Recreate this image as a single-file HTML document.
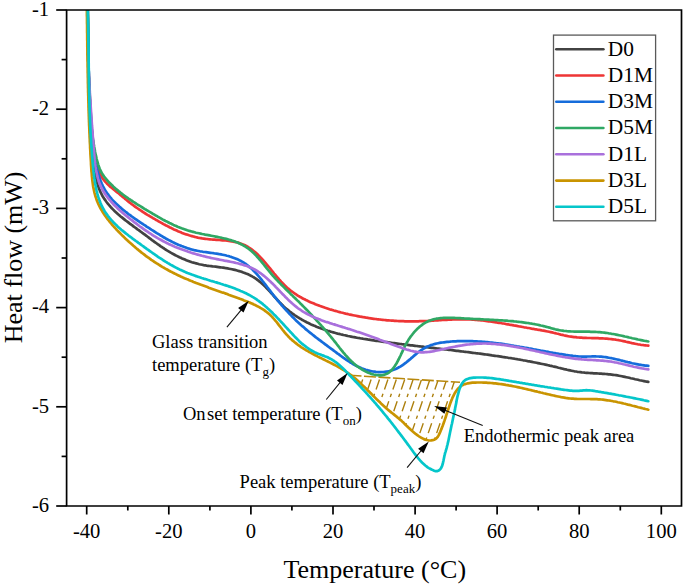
<!DOCTYPE html>
<html><head><meta charset="utf-8"><style>
html,body{margin:0;padding:0;background:#fff;}
svg{display:block;}
text{font-family:"Liberation Serif", serif;fill:#000;}
</style></head><body>
<svg width="685" height="586" viewBox="0 0 685 586">
<clipPath id="hc"><polygon points="349.5,375.3 356.3,379.8 364.6,387.3 371.9,394.6 379.2,401.9 388.5,409.5 391.9,412.5 399.2,419.6 408.0,426.9 416.6,434.7 425.3,439.5 431.1,440.5 436.2,438.8 439.1,434.4 440.8,430.0 442.5,426.5 445.9,416.7 449.6,405.0 451.9,400.0 456.3,390.4 460.0,382.3"/></clipPath>
<g clip-path="url(#hc)" stroke="#ad800e" stroke-width="1.4" fill="none">
<line x1="295.5" y1="379.5" x2="266.2" y2="464.6" stroke-dasharray="10.5,4.6,3.4,4.6"/>
<line x1="303.9" y1="379.5" x2="274.6" y2="464.6" stroke-dasharray="10.5,4.6,3.4,4.6"/>
<line x1="312.3" y1="379.5" x2="283.0" y2="464.6" stroke-dasharray="10.5,4.6,3.4,4.6"/>
<line x1="320.7" y1="379.5" x2="291.4" y2="464.6" stroke-dasharray="10.5,4.6,3.4,4.6"/>
<line x1="329.1" y1="379.5" x2="299.8" y2="464.6" stroke-dasharray="10.5,4.6,3.4,4.6"/>
<line x1="337.5" y1="379.5" x2="308.2" y2="464.6" stroke-dasharray="10.5,4.6,3.4,4.6"/>
<line x1="345.9" y1="379.5" x2="316.6" y2="464.6" stroke-dasharray="10.5,4.6,3.4,4.6"/>
<line x1="354.3" y1="379.5" x2="325.0" y2="464.6" stroke-dasharray="10.5,4.6,3.4,4.6"/>
<line x1="362.7" y1="379.5" x2="333.4" y2="464.6" stroke-dasharray="10.5,4.6,3.4,4.6"/>
<line x1="371.1" y1="379.5" x2="341.8" y2="464.6" stroke-dasharray="10.5,4.6,3.4,4.6"/>
<line x1="379.5" y1="379.5" x2="350.2" y2="464.6" stroke-dasharray="10.5,4.6,3.4,4.6"/>
<line x1="387.9" y1="379.5" x2="358.6" y2="464.6" stroke-dasharray="10.5,4.6,3.4,4.6"/>
<line x1="396.3" y1="379.5" x2="367.0" y2="464.6" stroke-dasharray="10.5,4.6,3.4,4.6"/>
<line x1="404.7" y1="379.5" x2="375.4" y2="464.6" stroke-dasharray="10.5,4.6,3.4,4.6"/>
<line x1="413.1" y1="379.5" x2="383.8" y2="464.6" stroke-dasharray="10.5,4.6,3.4,4.6"/>
<line x1="421.5" y1="379.5" x2="392.2" y2="464.6" stroke-dasharray="10.5,4.6,3.4,4.6"/>
<line x1="429.9" y1="379.5" x2="400.6" y2="464.6" stroke-dasharray="10.5,4.6,3.4,4.6"/>
<line x1="438.3" y1="379.5" x2="409.0" y2="464.6" stroke-dasharray="10.5,4.6,3.4,4.6"/>
<line x1="446.7" y1="379.5" x2="417.4" y2="464.6" stroke-dasharray="10.5,4.6,3.4,4.6"/>
<line x1="455.1" y1="379.5" x2="425.8" y2="464.6" stroke-dasharray="10.5,4.6,3.4,4.6"/>
<line x1="463.5" y1="379.5" x2="434.2" y2="464.6" stroke-dasharray="10.5,4.6,3.4,4.6"/>
<line x1="471.9" y1="379.5" x2="442.6" y2="464.6" stroke-dasharray="10.5,4.6,3.4,4.6"/>
</g>
<line x1="349.5" y1="375.3" x2="460" y2="382.3" stroke="#b8880c" stroke-width="1.6" stroke-dasharray="12,2.5"/>
<clipPath id="pc"><rect x="66.6" y="10" width="614.9" height="496"/></clipPath><g clip-path="url(#pc)">
<path d="M87.7,4.9 L87.7,6.5 L87.6,8.0 L87.6,9.5 L87.6,11.1 L87.6,12.6 L87.6,14.1 L87.6,15.6 L87.6,17.2 L87.6,18.7 L87.6,20.2 L87.6,21.7 L87.6,23.2 L87.6,24.7 L87.6,26.3 L87.6,27.8 L87.6,29.3 L87.6,30.8 L87.7,32.3 L87.7,33.8 L87.7,35.3 L87.7,36.8 L87.7,38.3 L87.8,39.8 L87.8,41.3 L87.8,42.8 L87.8,44.3 L87.9,45.7 L87.9,47.2 L87.9,48.7 L88.0,50.2 L88.0,51.7 L88.1,53.2 L88.1,54.7 L88.1,56.1 L88.2,57.6 L88.2,59.1 L88.3,60.6 L88.3,62.1 L88.4,63.6 L88.4,65.0 L88.5,66.5 L88.5,68.0 L88.6,69.5 L88.7,70.9 L88.7,72.4 L88.8,73.9 L88.8,75.4 L88.9,76.9 L89.0,78.3 L89.0,79.8 L89.1,81.3 L89.2,82.8 L89.2,84.2 L89.3,85.7 L89.4,87.2 L89.5,88.7 L89.5,90.1 L89.6,91.6 L89.7,93.1 L89.7,94.6 L89.8,96.1 L89.9,97.5 L90.0,99.0 L90.1,100.5 L90.1,102.0 L90.2,103.5 L90.3,105.0 L90.4,106.4 L90.5,107.9 L90.6,109.4 L90.6,110.9 L90.7,112.4 L90.8,113.9 L90.9,115.4 L91.0,116.9 L91.1,118.4 L91.2,119.9 L91.3,121.4 L91.3,122.9 L91.4,124.4 L91.5,125.9 L91.6,127.4 L91.7,128.9 L91.8,130.4 L91.9,131.9 L92.0,133.4 L92.1,134.9 L92.2,136.4 L92.3,137.9 L92.4,139.5 L92.5,141.0 L92.5,142.5 L92.6,144.0 L92.7,145.5 L92.8,147.1 L92.9,148.6 L93.0,150.1 L93.1,151.7 L93.2,153.2 L93.3,154.8 L93.4,156.3 L93.5,157.8 L93.6,159.4 L93.8,160.9 L93.9,162.4 L94.0,164.0 L94.2,165.5 L94.4,167.0 L94.5,168.5 L94.7,170.0 L94.9,171.5 L95.2,173.0 L95.4,174.5 L95.7,176.0 L96.0,177.5 L96.3,178.9 L96.6,180.4 L96.9,181.8 L97.3,183.2 L97.7,184.6 L98.2,186.0 L98.6,187.4 L99.1,188.7 L99.7,190.1 L100.2,191.4 L100.8,192.7 L101.5,194.0 L102.1,195.3 L102.8,196.5 L103.6,197.7 L104.3,198.9 L105.2,200.1 L106.0,201.3 L106.9,202.5 L107.8,203.6 L108.7,204.7 L109.7,205.8 L110.6,206.9 L111.6,208.0 L112.7,209.1 L113.7,210.1 L114.8,211.2 L115.9,212.2 L117.0,213.2 L118.1,214.2 L119.3,215.2 L120.4,216.2 L121.6,217.2 L122.8,218.1 L124.0,219.1 L125.2,220.1 L126.4,221.0 L127.6,221.9 L128.9,222.9 L130.1,223.8 L131.3,224.7 L132.6,225.6 L133.8,226.6 L135.1,227.5 L136.3,228.4 L137.5,229.3 L138.8,230.2 L140.0,231.1 L141.2,232.0 L142.4,232.9 L143.7,233.8 L144.9,234.7 L146.1,235.6 L147.3,236.5 L148.5,237.4 L149.7,238.3 L150.9,239.2 L152.0,240.1 L153.2,240.9 L154.4,241.8 L155.6,242.7 L156.8,243.5 L158.0,244.4 L159.2,245.2 L160.4,246.1 L161.6,246.9 L162.8,247.7 L164.1,248.5 L165.3,249.3 L166.5,250.1 L167.8,250.9 L169.0,251.6 L170.3,252.4 L171.6,253.1 L172.8,253.8 L174.1,254.5 L175.4,255.2 L176.8,255.9 L178.1,256.6 L179.4,257.2 L180.8,257.8 L182.1,258.4 L183.5,259.0 L184.9,259.6 L186.3,260.2 L187.7,260.7 L189.1,261.2 L190.5,261.7 L191.9,262.2 L193.4,262.6 L194.8,263.0 L196.2,263.4 L197.7,263.8 L199.2,264.2 L200.6,264.5 L202.1,264.8 L203.6,265.1 L205.1,265.3 L206.6,265.6 L208.1,265.8 L209.6,266.0 L211.1,266.2 L212.6,266.4 L214.1,266.5 L215.6,266.7 L217.1,266.9 L218.6,267.1 L220.2,267.3 L221.7,267.5 L223.1,267.7 L224.6,267.9 L226.1,268.2 L227.6,268.4 L229.1,268.7 L230.6,269.0 L232.0,269.3 L233.5,269.6 L234.9,269.9 L236.3,270.3 L237.8,270.7 L239.2,271.1 L240.6,271.5 L242.0,271.9 L243.3,272.4 L244.7,272.9 L246.0,273.5 L247.4,274.0 L248.7,274.6 L250.0,275.3 L251.3,275.9 L252.5,276.6 L253.8,277.3 L255.0,278.1 L256.2,278.9 L257.4,279.8 L258.5,280.6 L259.7,281.6 L260.8,282.5 L261.9,283.5 L263.0,284.5 L264.1,285.5 L265.2,286.6 L266.2,287.7 L267.3,288.8 L268.3,289.9 L269.4,291.0 L270.4,292.2 L271.4,293.3 L272.5,294.4 L273.5,295.6 L274.5,296.8 L275.5,297.9 L276.6,299.0 L277.6,300.2 L278.7,301.3 L279.7,302.4 L280.8,303.5 L281.8,304.6 L282.9,305.6 L284.0,306.7 L285.1,307.7 L286.3,308.7 L287.4,309.6 L288.6,310.6 L289.7,311.5 L290.9,312.4 L292.1,313.3 L293.3,314.1 L294.5,315.0 L295.7,315.8 L296.9,316.6 L298.1,317.4 L299.4,318.2 L300.7,318.9 L301.9,319.7 L303.2,320.4 L304.5,321.1 L305.8,321.8 L307.1,322.5 L308.4,323.1 L309.7,323.7 L311.0,324.4 L312.4,325.0 L313.7,325.6 L315.1,326.1 L316.4,326.7 L317.8,327.2 L319.2,327.8 L320.6,328.3 L322.0,328.8 L323.4,329.3 L324.8,329.8 L326.2,330.2 L327.6,330.7 L329.0,331.1 L330.4,331.6 L331.9,332.0 L333.3,332.4 L334.7,332.8 L336.2,333.2 L337.6,333.6 L339.1,333.9 L340.5,334.3 L342.0,334.6 L343.5,335.0 L345.0,335.3 L346.4,335.6 L347.9,336.0 L349.4,336.3 L350.9,336.6 L352.4,336.9 L353.9,337.1 L355.3,337.4 L356.8,337.7 L358.3,338.0 L359.8,338.2 L361.3,338.5 L362.8,338.7 L364.3,339.0 L365.8,339.2 L367.3,339.4 L368.8,339.7 L370.3,339.9 L371.9,340.1 L373.4,340.3 L374.9,340.6 L376.4,340.8 L377.9,341.0 L379.4,341.2 L380.9,341.4 L382.4,341.6 L383.9,341.8 L385.4,342.0 L386.9,342.2 L388.4,342.4 L389.9,342.6 L391.3,342.8 L392.8,343.0 L394.3,343.2 L395.8,343.4 L397.3,343.6 L398.8,343.8 L400.3,344.0 L401.8,344.2 L403.3,344.3 L404.8,344.5 L406.2,344.7 L407.7,344.9 L409.2,345.1 L410.7,345.3 L412.2,345.4 L413.7,345.6 L415.1,345.8 L416.6,346.0 L418.1,346.2 L419.6,346.3 L421.1,346.5 L422.5,346.7 L424.0,346.9 L425.5,347.0 L427.0,347.2 L428.4,347.4 L429.9,347.6 L431.4,347.8 L432.9,347.9 L434.4,348.1 L435.8,348.3 L437.3,348.5 L438.8,348.6 L440.3,348.8 L441.7,349.0 L443.2,349.2 L444.7,349.3 L446.2,349.5 L447.6,349.7 L449.1,349.9 L450.6,350.0 L452.1,350.2 L453.5,350.4 L455.0,350.6 L456.5,350.8 L458.0,350.9 L459.4,351.1 L460.9,351.3 L462.4,351.5 L463.9,351.7 L465.3,351.8 L466.8,352.0 L468.3,352.2 L469.8,352.4 L471.3,352.6 L472.7,352.8 L474.2,353.0 L475.7,353.2 L477.2,353.3 L478.7,353.5 L480.1,353.7 L481.6,353.9 L483.1,354.1 L484.6,354.3 L486.1,354.5 L487.5,354.7 L489.0,354.9 L490.5,355.1 L492.0,355.4 L493.5,355.6 L495.0,355.8 L496.5,356.0 L497.9,356.2 L499.4,356.4 L500.9,356.6 L502.4,356.9 L503.9,357.1 L505.4,357.3 L506.8,357.5 L508.3,357.8 L509.8,358.0 L511.3,358.2 L512.8,358.5 L514.3,358.7 L515.8,359.0 L517.2,359.2 L518.7,359.5 L520.2,359.7 L521.7,360.0 L523.2,360.3 L524.6,360.5 L526.1,360.8 L527.6,361.1 L529.1,361.3 L530.6,361.6 L532.0,361.9 L533.5,362.2 L535.0,362.5 L536.5,362.8 L537.9,363.1 L539.4,363.4 L540.9,363.7 L542.3,364.0 L543.8,364.3 L545.3,364.6 L546.7,364.9 L548.2,365.2 L549.7,365.6 L551.1,365.9 L552.6,366.3 L554.0,366.6 L555.5,366.9 L557.0,367.3 L558.4,367.7 L559.9,368.0 L561.3,368.4 L562.8,368.7 L564.2,369.1 L565.7,369.4 L567.1,369.8 L568.6,370.1 L570.1,370.4 L571.5,370.7 L573.0,371.0 L574.4,371.3 L575.9,371.5 L577.4,371.8 L578.8,372.0 L580.3,372.2 L581.8,372.4 L583.3,372.5 L584.8,372.7 L586.3,372.8 L587.7,372.9 L589.2,373.0 L590.7,373.1 L592.2,373.2 L593.7,373.3 L595.2,373.4 L596.7,373.4 L598.2,373.5 L599.7,373.6 L601.2,373.7 L602.7,373.8 L604.2,373.9 L605.7,374.0 L607.2,374.1 L608.6,374.3 L610.1,374.4 L611.6,374.6 L613.1,374.8 L614.6,375.0 L616.0,375.2 L617.5,375.4 L619.0,375.7 L620.5,376.0 L621.9,376.3 L623.4,376.6 L624.9,376.9 L626.3,377.2 L627.8,377.5 L629.2,377.8 L630.7,378.2 L632.2,378.5 L633.6,378.8 L635.1,379.2 L636.6,379.5 L638.0,379.8 L639.5,380.2 L641.0,380.5 L642.4,380.8 L643.9,381.1 L645.4,381.4 L646.8,381.6 L648.3,381.9" fill="none" stroke="#424242" stroke-width="2.7" stroke-linejoin="round" stroke-linecap="round"/>
<path d="M87.6,5.0 L87.6,6.5 L87.7,8.0 L87.7,9.5 L87.8,11.0 L87.8,12.5 L87.8,14.0 L87.9,15.5 L87.9,17.0 L88.0,18.5 L88.0,20.0 L88.0,21.5 L88.0,23.0 L88.1,24.5 L88.1,26.0 L88.1,27.5 L88.1,29.0 L88.2,30.5 L88.2,32.0 L88.2,33.5 L88.2,35.0 L88.2,36.5 L88.3,38.0 L88.3,39.5 L88.3,41.0 L88.3,42.5 L88.3,44.0 L88.3,45.5 L88.3,47.0 L88.4,48.5 L88.4,50.0 L88.4,51.5 L88.4,53.0 L88.4,54.5 L88.4,56.0 L88.4,57.5 L88.5,59.0 L88.5,60.5 L88.5,62.0 L88.5,63.5 L88.5,65.0 L88.5,66.5 L88.6,68.0 L88.6,69.5 L88.6,71.0 L88.6,72.5 L88.7,74.0 L88.7,75.5 L88.7,77.0 L88.8,78.5 L88.8,79.9 L88.8,81.4 L88.9,82.9 L88.9,84.4 L88.9,85.9 L89.0,87.4 L89.0,88.9 L89.1,90.4 L89.1,91.9 L89.2,93.4 L89.2,94.9 L89.3,96.4 L89.3,97.9 L89.4,99.4 L89.5,100.9 L89.5,102.4 L89.6,103.9 L89.7,105.4 L89.8,106.9 L89.8,108.4 L89.9,109.9 L90.0,111.4 L90.1,112.9 L90.2,114.4 L90.3,115.9 L90.4,117.4 L90.5,118.9 L90.6,120.4 L90.8,121.9 L90.9,123.4 L91.0,124.9 L91.1,126.3 L91.3,127.8 L91.4,129.3 L91.6,130.8 L91.7,132.3 L91.9,133.8 L92.0,135.3 L92.2,136.8 L92.4,138.3 L92.5,139.8 L92.7,141.4 L92.9,142.9 L93.1,144.4 L93.3,145.9 L93.5,147.4 L93.7,148.9 L93.9,150.4 L94.1,151.9 L94.4,153.4 L94.6,154.9 L94.9,156.4 L95.1,157.9 L95.4,159.3 L95.7,160.8 L96.1,162.3 L96.4,163.7 L96.8,165.1 L97.2,166.6 L97.7,168.0 L98.1,169.4 L98.7,170.7 L99.2,172.1 L99.8,173.4 L100.5,174.7 L101.2,175.9 L101.9,177.2 L102.7,178.4 L103.5,179.6 L104.4,180.7 L105.4,181.9 L106.4,182.9 L107.4,184.0 L108.5,185.0 L109.6,186.1 L110.8,187.1 L112.0,188.0 L113.1,189.0 L114.3,190.0 L115.5,190.9 L116.7,191.9 L117.9,192.8 L119.1,193.8 L120.2,194.8 L121.4,195.7 L122.5,196.7 L123.7,197.6 L124.8,198.6 L125.9,199.5 L127.1,200.4 L128.2,201.4 L129.4,202.3 L130.6,203.2 L131.7,204.1 L132.9,205.0 L134.1,205.9 L135.3,206.8 L136.5,207.6 L137.8,208.5 L139.0,209.3 L140.3,210.2 L141.5,211.0 L142.8,211.8 L144.0,212.7 L145.3,213.5 L146.6,214.3 L147.9,215.1 L149.2,215.8 L150.5,216.6 L151.8,217.4 L153.1,218.2 L154.4,218.9 L155.7,219.7 L157.0,220.4 L158.3,221.2 L159.6,221.9 L160.9,222.6 L162.2,223.3 L163.5,224.1 L164.8,224.8 L166.1,225.5 L167.4,226.1 L168.7,226.8 L170.0,227.5 L171.4,228.1 L172.7,228.8 L174.0,229.4 L175.4,230.0 L176.7,230.6 L178.0,231.2 L179.4,231.8 L180.8,232.3 L182.1,232.9 L183.5,233.4 L184.9,233.9 L186.3,234.4 L187.7,234.8 L189.1,235.3 L190.5,235.7 L191.9,236.1 L193.4,236.5 L194.8,236.9 L196.3,237.2 L197.7,237.6 L199.2,237.9 L200.7,238.1 L202.2,238.4 L203.7,238.6 L205.3,238.8 L206.8,239.0 L208.3,239.2 L209.9,239.3 L211.5,239.5 L213.0,239.6 L214.6,239.7 L216.2,239.8 L217.8,239.9 L219.4,240.0 L220.9,240.1 L222.5,240.3 L224.1,240.4 L225.6,240.5 L227.2,240.7 L228.7,240.9 L230.2,241.1 L231.7,241.3 L233.2,241.6 L234.7,241.9 L236.1,242.2 L237.6,242.5 L239.0,242.9 L240.4,243.4 L241.7,243.9 L243.0,244.4 L244.3,245.0 L245.6,245.6 L246.9,246.3 L248.1,247.0 L249.3,247.8 L250.5,248.6 L251.6,249.4 L252.8,250.3 L253.9,251.2 L255.0,252.1 L256.1,253.1 L257.2,254.1 L258.3,255.1 L259.3,256.1 L260.3,257.2 L261.4,258.3 L262.4,259.4 L263.4,260.5 L264.4,261.7 L265.4,262.8 L266.4,264.0 L267.3,265.2 L268.3,266.3 L269.3,267.5 L270.3,268.7 L271.2,269.9 L272.2,271.1 L273.2,272.3 L274.1,273.5 L275.1,274.7 L276.1,275.9 L277.1,277.0 L278.1,278.2 L279.1,279.4 L280.1,280.5 L281.1,281.6 L282.2,282.7 L283.2,283.8 L284.3,284.9 L285.3,285.9 L286.4,287.0 L287.5,288.0 L288.7,288.9 L289.8,289.9 L290.9,290.8 L292.1,291.7 L293.3,292.5 L294.5,293.4 L295.7,294.2 L296.9,295.0 L298.2,295.8 L299.4,296.5 L300.7,297.2 L302.0,298.0 L303.3,298.7 L304.6,299.3 L305.9,300.0 L307.2,300.6 L308.5,301.3 L309.9,301.9 L311.2,302.5 L312.6,303.0 L314.0,303.6 L315.3,304.2 L316.7,304.7 L318.1,305.2 L319.5,305.8 L320.9,306.3 L322.3,306.8 L323.8,307.3 L325.2,307.8 L326.6,308.2 L328.1,308.7 L329.5,309.2 L330.9,309.6 L332.4,310.0 L333.8,310.5 L335.3,310.9 L336.8,311.3 L338.2,311.7 L339.7,312.1 L341.2,312.5 L342.6,312.8 L344.1,313.2 L345.6,313.6 L347.1,313.9 L348.5,314.3 L350.0,314.6 L351.5,314.9 L353.0,315.2 L354.5,315.5 L356.0,315.8 L357.5,316.1 L358.9,316.4 L360.4,316.7 L361.9,316.9 L363.4,317.2 L364.9,317.4 L366.4,317.7 L367.9,317.9 L369.3,318.2 L370.8,318.4 L372.3,318.6 L373.8,318.8 L375.3,319.0 L376.7,319.2 L378.2,319.3 L379.7,319.5 L381.2,319.7 L382.7,319.8 L384.2,320.0 L385.6,320.1 L387.1,320.3 L388.6,320.4 L390.1,320.5 L391.6,320.6 L393.1,320.7 L394.5,320.8 L396.0,320.9 L397.5,321.0 L399.0,321.1 L400.5,321.1 L402.0,321.2 L403.4,321.2 L404.9,321.3 L406.4,321.3 L407.9,321.3 L409.4,321.3 L410.9,321.3 L412.4,321.3 L413.8,321.3 L415.3,321.3 L416.8,321.3 L418.3,321.3 L419.8,321.2 L421.3,321.2 L422.8,321.1 L424.3,321.1 L425.8,321.0 L427.3,321.0 L428.8,320.9 L430.3,320.8 L431.8,320.7 L433.3,320.6 L434.8,320.5 L436.3,320.4 L437.8,320.3 L439.3,320.2 L440.8,320.1 L442.3,320.0 L443.8,320.0 L445.3,319.9 L446.8,319.8 L448.3,319.7 L449.8,319.6 L451.3,319.6 L452.8,319.5 L454.3,319.4 L455.8,319.4 L457.3,319.4 L458.8,319.3 L460.3,319.3 L461.8,319.3 L463.3,319.3 L464.8,319.3 L466.3,319.4 L467.8,319.4 L469.3,319.5 L470.8,319.5 L472.3,319.6 L473.8,319.7 L475.3,319.8 L476.7,320.0 L478.2,320.1 L479.7,320.2 L481.2,320.4 L482.7,320.5 L484.2,320.7 L485.7,320.9 L487.2,321.1 L488.6,321.3 L490.1,321.5 L491.6,321.7 L493.1,321.9 L494.6,322.1 L496.1,322.3 L497.5,322.6 L499.0,322.8 L500.5,323.0 L502.0,323.3 L503.5,323.5 L504.9,323.8 L506.4,324.1 L507.9,324.3 L509.4,324.6 L510.8,324.8 L512.3,325.1 L513.8,325.4 L515.3,325.6 L516.8,325.9 L518.2,326.2 L519.7,326.5 L521.2,326.7 L522.7,327.0 L524.1,327.3 L525.6,327.5 L527.1,327.8 L528.6,328.0 L530.0,328.3 L531.5,328.6 L533.0,328.8 L534.5,329.1 L535.9,329.3 L537.4,329.6 L538.9,329.8 L540.4,330.1 L541.8,330.4 L543.3,330.6 L544.8,330.9 L546.2,331.2 L547.7,331.5 L549.2,331.8 L550.6,332.1 L552.1,332.4 L553.5,332.8 L555.0,333.1 L556.5,333.5 L557.9,333.8 L559.4,334.2 L560.8,334.6 L562.3,334.9 L563.8,335.3 L565.2,335.6 L566.7,335.9 L568.2,336.2 L569.6,336.5 L571.1,336.7 L572.6,336.9 L574.1,337.1 L575.6,337.2 L577.0,337.4 L578.5,337.5 L580.0,337.6 L581.5,337.7 L583.0,337.8 L584.5,337.8 L586.0,337.9 L587.5,338.0 L589.0,338.0 L590.5,338.0 L592.0,338.1 L593.5,338.1 L595.0,338.2 L596.5,338.2 L598.0,338.2 L599.5,338.3 L601.0,338.3 L602.5,338.4 L604.0,338.5 L605.5,338.6 L606.9,338.7 L608.4,338.8 L609.9,339.0 L611.4,339.1 L612.9,339.3 L614.4,339.5 L615.8,339.7 L617.3,340.0 L618.8,340.2 L620.3,340.5 L621.7,340.8 L623.2,341.1 L624.7,341.4 L626.1,341.8 L627.6,342.1 L629.1,342.4 L630.5,342.7 L632.0,343.1 L633.5,343.4 L635.0,343.7 L636.4,344.0 L637.9,344.3 L639.4,344.5 L640.9,344.8 L642.4,345.0 L643.8,345.2 L645.3,345.3 L646.8,345.5 L648.3,345.6" fill="none" stroke="#ee3535" stroke-width="2.7" stroke-linejoin="round" stroke-linecap="round"/>
<path d="M87.6,5.0 L87.6,6.5 L87.7,8.0 L87.7,9.5 L87.7,11.0 L87.8,12.5 L87.8,14.0 L87.8,15.6 L87.8,17.1 L87.9,18.6 L87.9,20.1 L87.9,21.6 L88.0,23.1 L88.0,24.6 L88.0,26.1 L88.0,27.6 L88.1,29.1 L88.1,30.6 L88.1,32.1 L88.1,33.6 L88.1,35.1 L88.2,36.6 L88.2,38.1 L88.2,39.6 L88.2,41.1 L88.2,42.6 L88.3,44.1 L88.3,45.6 L88.3,47.1 L88.3,48.6 L88.4,50.1 L88.4,51.6 L88.4,53.1 L88.4,54.6 L88.4,56.0 L88.5,57.5 L88.5,59.0 L88.5,60.5 L88.5,62.0 L88.6,63.5 L88.6,65.0 L88.6,66.5 L88.7,68.0 L88.7,69.5 L88.7,70.9 L88.8,72.4 L88.8,73.9 L88.8,75.4 L88.9,76.9 L88.9,78.4 L89.0,79.9 L89.0,81.4 L89.1,82.8 L89.1,84.3 L89.2,85.8 L89.2,87.3 L89.3,88.8 L89.3,90.3 L89.4,91.8 L89.4,93.3 L89.5,94.7 L89.6,96.2 L89.6,97.7 L89.7,99.2 L89.8,100.7 L89.8,102.2 L89.9,103.7 L90.0,105.2 L90.1,106.7 L90.2,108.1 L90.2,109.6 L90.3,111.1 L90.4,112.6 L90.5,114.1 L90.6,115.6 L90.7,117.1 L90.8,118.6 L90.9,120.1 L91.1,121.6 L91.2,123.1 L91.3,124.6 L91.4,126.1 L91.5,127.6 L91.7,129.0 L91.8,130.5 L91.9,132.0 L92.1,133.5 L92.2,135.0 L92.4,136.5 L92.5,138.0 L92.7,139.5 L92.9,141.1 L93.0,142.6 L93.2,144.1 L93.4,145.6 L93.5,147.1 L93.7,148.6 L93.9,150.1 L94.1,151.6 L94.3,153.1 L94.5,154.6 L94.7,156.1 L94.9,157.6 L95.2,159.1 L95.4,160.6 L95.7,162.1 L95.9,163.6 L96.2,165.1 L96.5,166.6 L96.8,168.0 L97.2,169.5 L97.5,171.0 L97.9,172.4 L98.3,173.8 L98.7,175.3 L99.2,176.7 L99.6,178.1 L100.1,179.4 L100.6,180.8 L101.2,182.2 L101.7,183.5 L102.3,184.8 L102.9,186.1 L103.6,187.4 L104.3,188.7 L105.0,189.9 L105.8,191.2 L106.6,192.4 L107.4,193.6 L108.3,194.7 L109.1,195.9 L110.0,197.0 L111.0,198.2 L111.9,199.3 L112.9,200.4 L113.9,201.4 L115.0,202.5 L116.0,203.6 L117.1,204.6 L118.2,205.6 L119.3,206.6 L120.5,207.6 L121.6,208.6 L122.8,209.6 L124.0,210.5 L125.2,211.5 L126.4,212.4 L127.6,213.4 L128.8,214.3 L130.1,215.2 L131.3,216.1 L132.6,217.0 L133.8,217.9 L135.1,218.8 L136.4,219.7 L137.7,220.6 L138.9,221.4 L140.2,222.3 L141.5,223.2 L142.8,224.0 L144.1,224.9 L145.4,225.7 L146.6,226.6 L147.9,227.4 L149.2,228.2 L150.5,229.1 L151.7,229.9 L153.0,230.7 L154.3,231.5 L155.6,232.3 L156.8,233.1 L158.1,233.9 L159.4,234.7 L160.7,235.5 L161.9,236.2 L163.2,237.0 L164.5,237.7 L165.8,238.5 L167.1,239.2 L168.4,239.9 L169.7,240.6 L171.0,241.2 L172.3,241.9 L173.6,242.6 L174.9,243.2 L176.2,243.8 L177.6,244.4 L178.9,245.0 L180.3,245.5 L181.6,246.1 L183.0,246.6 L184.3,247.1 L185.7,247.6 L187.1,248.1 L188.5,248.5 L189.9,248.9 L191.3,249.4 L192.7,249.7 L194.2,250.1 L195.6,250.4 L197.1,250.7 L198.5,251.0 L200.0,251.3 L201.5,251.5 L203.0,251.8 L204.5,252.0 L206.0,252.2 L207.5,252.4 L209.0,252.6 L210.5,252.8 L212.0,253.0 L213.5,253.2 L215.0,253.5 L216.5,253.7 L218.0,253.9 L219.5,254.2 L221.0,254.4 L222.5,254.7 L224.0,255.0 L225.4,255.3 L226.9,255.7 L228.4,256.0 L229.8,256.5 L231.2,256.9 L232.6,257.4 L234.0,257.9 L235.4,258.4 L236.8,259.0 L238.1,259.6 L239.5,260.3 L240.8,260.9 L242.1,261.7 L243.3,262.4 L244.5,263.2 L245.8,264.0 L246.9,264.9 L248.1,265.8 L249.2,266.7 L250.4,267.7 L251.4,268.6 L252.5,269.6 L253.6,270.7 L254.6,271.7 L255.6,272.8 L256.6,273.9 L257.6,275.0 L258.6,276.2 L259.6,277.3 L260.5,278.5 L261.5,279.6 L262.4,280.8 L263.4,282.0 L264.3,283.2 L265.2,284.4 L266.1,285.6 L267.0,286.8 L268.0,288.0 L268.9,289.2 L269.8,290.4 L270.7,291.6 L271.6,292.8 L272.6,294.0 L273.5,295.2 L274.4,296.4 L275.4,297.5 L276.3,298.7 L277.2,299.9 L278.2,301.0 L279.1,302.2 L280.1,303.3 L281.1,304.4 L282.0,305.6 L283.0,306.7 L284.0,307.8 L285.0,308.9 L286.0,310.0 L287.0,311.1 L288.0,312.2 L289.0,313.3 L290.0,314.4 L291.0,315.4 L292.1,316.5 L293.1,317.6 L294.2,318.6 L295.2,319.6 L296.3,320.7 L297.4,321.7 L298.5,322.7 L299.6,323.7 L300.7,324.7 L301.8,325.7 L302.9,326.6 L304.0,327.6 L305.1,328.6 L306.3,329.6 L307.4,330.5 L308.6,331.5 L309.7,332.4 L310.9,333.3 L312.1,334.3 L313.2,335.2 L314.4,336.1 L315.6,337.1 L316.8,338.0 L318.0,338.9 L319.2,339.8 L320.4,340.7 L321.6,341.6 L322.8,342.5 L324.0,343.4 L325.2,344.3 L326.4,345.2 L327.6,346.1 L328.8,347.0 L330.0,347.9 L331.3,348.8 L332.5,349.7 L333.7,350.6 L334.9,351.5 L336.1,352.4 L337.3,353.3 L338.6,354.2 L339.8,355.1 L341.0,356.0 L342.2,356.9 L343.5,357.8 L344.7,358.6 L345.9,359.5 L347.2,360.3 L348.4,361.1 L349.7,362.0 L351.0,362.7 L352.2,363.5 L353.5,364.3 L354.8,365.0 L356.1,365.7 L357.5,366.4 L358.8,367.0 L360.1,367.6 L361.5,368.2 L362.9,368.7 L364.3,369.2 L365.7,369.7 L367.1,370.1 L368.5,370.5 L370.0,370.9 L371.5,371.2 L373.0,371.5 L374.4,371.7 L375.9,371.9 L377.4,372.0 L378.9,372.1 L380.4,372.1 L381.9,372.0 L383.4,372.0 L384.9,371.8 L386.4,371.6 L387.9,371.4 L389.3,371.1 L390.8,370.7 L392.2,370.3 L393.6,369.8 L395.0,369.3 L396.3,368.7 L397.7,368.0 L399.0,367.3 L400.3,366.6 L401.5,365.8 L402.8,365.0 L404.0,364.1 L405.2,363.2 L406.4,362.3 L407.5,361.4 L408.7,360.4 L409.9,359.4 L411.0,358.4 L412.2,357.4 L413.3,356.4 L414.5,355.4 L415.7,354.4 L416.8,353.4 L418.0,352.5 L419.2,351.5 L420.5,350.6 L421.7,349.8 L423.0,349.0 L424.3,348.2 L425.6,347.5 L426.9,346.8 L428.2,346.2 L429.6,345.7 L431.0,345.1 L432.4,344.7 L433.8,344.3 L435.2,343.9 L436.6,343.5 L438.1,343.2 L439.5,342.9 L441.0,342.7 L442.5,342.5 L444.0,342.3 L445.5,342.1 L447.0,341.9 L448.4,341.8 L449.9,341.7 L451.4,341.5 L452.9,341.4 L454.4,341.4 L455.9,341.3 L457.4,341.2 L458.9,341.2 L460.4,341.1 L461.9,341.1 L463.4,341.1 L464.9,341.1 L466.4,341.1 L467.9,341.1 L469.4,341.1 L470.9,341.2 L472.4,341.2 L473.9,341.3 L475.4,341.3 L476.8,341.4 L478.3,341.5 L479.8,341.6 L481.3,341.7 L482.8,341.8 L484.3,341.9 L485.8,342.1 L487.3,342.2 L488.8,342.3 L490.3,342.5 L491.8,342.6 L493.3,342.8 L494.8,343.0 L496.2,343.2 L497.7,343.3 L499.2,343.5 L500.7,343.7 L502.2,343.9 L503.7,344.1 L505.2,344.4 L506.6,344.6 L508.1,344.8 L509.6,345.0 L511.1,345.3 L512.6,345.5 L514.1,345.8 L515.5,346.0 L517.0,346.3 L518.5,346.5 L520.0,346.8 L521.5,347.0 L522.9,347.3 L524.4,347.6 L525.9,347.8 L527.4,348.1 L528.8,348.4 L530.3,348.6 L531.8,348.9 L533.3,349.2 L534.7,349.5 L536.2,349.7 L537.7,350.0 L539.2,350.3 L540.6,350.6 L542.1,350.8 L543.6,351.1 L545.1,351.4 L546.5,351.7 L548.0,351.9 L549.5,352.2 L550.9,352.5 L552.4,352.7 L553.9,353.0 L555.4,353.2 L556.8,353.5 L558.3,353.7 L559.8,354.0 L561.3,354.2 L562.7,354.4 L564.2,354.6 L565.7,354.9 L567.1,355.1 L568.6,355.3 L570.1,355.5 L571.6,355.7 L573.0,355.9 L574.5,356.0 L576.0,356.2 L577.5,356.3 L578.9,356.5 L580.4,356.5 L581.9,356.6 L583.4,356.6 L584.9,356.6 L586.4,356.6 L587.8,356.5 L589.3,356.5 L590.8,356.5 L592.3,356.4 L593.8,356.4 L595.3,356.4 L596.8,356.5 L598.3,356.5 L599.7,356.6 L601.2,356.7 L602.7,356.8 L604.2,357.0 L605.7,357.2 L607.1,357.4 L608.6,357.7 L610.1,358.0 L611.6,358.2 L613.0,358.5 L614.5,358.9 L616.0,359.2 L617.4,359.5 L618.9,359.9 L620.4,360.3 L621.8,360.6 L623.3,361.0 L624.8,361.4 L626.2,361.7 L627.7,362.1 L629.2,362.4 L630.6,362.8 L632.1,363.2 L633.6,363.5 L635.0,363.8 L636.5,364.1 L638.0,364.4 L639.4,364.7 L640.9,364.9 L642.4,365.2 L643.9,365.4 L645.3,365.6 L646.8,365.7 L648.3,365.8" fill="none" stroke="#156cdb" stroke-width="2.7" stroke-linejoin="round" stroke-linecap="round"/>
<path d="M87.6,5.0 L87.6,6.5 L87.7,8.0 L87.8,9.5 L87.8,11.0 L87.8,12.5 L87.9,14.0 L87.9,15.5 L88.0,17.0 L88.0,18.5 L88.0,20.0 L88.1,21.5 L88.1,22.9 L88.1,24.4 L88.1,25.9 L88.2,27.4 L88.2,28.9 L88.2,30.4 L88.2,31.9 L88.2,33.4 L88.2,34.9 L88.3,36.4 L88.3,37.9 L88.3,39.4 L88.3,40.9 L88.3,42.4 L88.3,43.9 L88.3,45.4 L88.3,46.9 L88.3,48.4 L88.4,49.9 L88.4,51.4 L88.4,52.9 L88.4,54.4 L88.4,55.9 L88.4,57.4 L88.4,58.9 L88.4,60.4 L88.4,61.9 L88.4,63.4 L88.5,64.9 L88.5,66.4 L88.5,67.9 L88.5,69.4 L88.5,70.9 L88.5,72.4 L88.6,73.9 L88.6,75.4 L88.6,76.9 L88.6,78.4 L88.7,79.9 L88.7,81.4 L88.7,82.9 L88.8,84.4 L88.8,85.9 L88.9,87.4 L88.9,88.9 L89.0,90.4 L89.0,91.9 L89.1,93.4 L89.1,94.9 L89.2,96.4 L89.2,97.9 L89.3,99.4 L89.4,100.9 L89.5,102.4 L89.6,103.9 L89.6,105.4 L89.7,106.9 L89.8,108.3 L89.9,109.8 L90.0,111.3 L90.1,112.8 L90.2,114.3 L90.4,115.8 L90.5,117.3 L90.6,118.8 L90.7,120.3 L90.9,121.8 L91.0,123.3 L91.2,124.7 L91.3,126.2 L91.5,127.7 L91.7,129.2 L91.8,130.7 L92.0,132.2 L92.2,133.7 L92.4,135.1 L92.6,136.6 L92.8,138.1 L93.0,139.6 L93.2,141.1 L93.5,142.6 L93.7,144.0 L94.0,145.5 L94.2,147.0 L94.5,148.5 L94.8,150.0 L95.0,151.4 L95.3,152.9 L95.6,154.4 L96.0,155.9 L96.3,157.3 L96.6,158.8 L97.0,160.3 L97.4,161.7 L97.8,163.2 L98.2,164.6 L98.7,166.0 L99.2,167.4 L99.7,168.8 L100.3,170.2 L101.0,171.5 L101.7,172.8 L102.4,174.1 L103.3,175.3 L104.1,176.5 L105.0,177.7 L106.0,178.8 L106.9,180.0 L107.9,181.1 L108.9,182.2 L110.0,183.2 L111.0,184.3 L112.1,185.3 L113.2,186.4 L114.3,187.4 L115.4,188.4 L116.5,189.4 L117.7,190.3 L118.8,191.3 L120.0,192.2 L121.1,193.2 L122.3,194.1 L123.5,195.0 L124.7,195.9 L126.0,196.8 L127.2,197.6 L128.4,198.5 L129.7,199.4 L130.9,200.2 L132.2,201.0 L133.4,201.9 L134.7,202.7 L136.0,203.5 L137.2,204.3 L138.5,205.1 L139.8,205.9 L141.1,206.7 L142.4,207.5 L143.7,208.3 L144.9,209.1 L146.2,209.8 L147.5,210.6 L148.8,211.4 L150.1,212.1 L151.4,212.9 L152.6,213.7 L153.9,214.4 L155.2,215.2 L156.5,215.9 L157.8,216.7 L159.1,217.4 L160.4,218.1 L161.6,218.8 L162.9,219.6 L164.2,220.3 L165.5,221.0 L166.9,221.6 L168.2,222.3 L169.5,223.0 L170.8,223.6 L172.1,224.2 L173.5,224.9 L174.8,225.5 L176.2,226.1 L177.5,226.7 L178.9,227.2 L180.3,227.8 L181.6,228.3 L183.0,228.8 L184.4,229.3 L185.9,229.8 L187.3,230.3 L188.7,230.7 L190.2,231.1 L191.6,231.5 L193.1,231.9 L194.6,232.3 L196.0,232.7 L197.5,233.0 L199.0,233.3 L200.5,233.6 L202.1,234.0 L203.6,234.3 L205.1,234.6 L206.6,234.8 L208.1,235.1 L209.7,235.4 L211.2,235.7 L212.7,236.0 L214.2,236.3 L215.7,236.6 L217.3,236.9 L218.8,237.2 L220.3,237.5 L221.8,237.9 L223.2,238.2 L224.7,238.5 L226.2,238.9 L227.7,239.3 L229.1,239.7 L230.5,240.1 L232.0,240.6 L233.4,241.0 L234.8,241.5 L236.1,242.1 L237.5,242.6 L238.9,243.2 L240.2,243.8 L241.5,244.4 L242.8,245.1 L244.0,245.8 L245.3,246.5 L246.5,247.3 L247.7,248.1 L248.9,249.0 L250.0,249.9 L251.1,250.8 L252.2,251.8 L253.3,252.8 L254.4,253.8 L255.4,254.9 L256.4,255.9 L257.4,257.1 L258.4,258.2 L259.4,259.3 L260.4,260.5 L261.4,261.7 L262.4,262.9 L263.3,264.0 L264.3,265.2 L265.2,266.4 L266.2,267.6 L267.2,268.8 L268.1,270.0 L269.1,271.2 L270.1,272.4 L271.0,273.5 L272.0,274.6 L273.0,275.8 L274.0,276.9 L275.0,278.0 L276.0,279.1 L277.1,280.2 L278.1,281.3 L279.1,282.4 L280.1,283.4 L281.2,284.5 L282.2,285.6 L283.3,286.6 L284.3,287.6 L285.3,288.7 L286.4,289.7 L287.5,290.8 L288.5,291.8 L289.6,292.8 L290.6,293.9 L291.7,294.9 L292.7,295.9 L293.8,297.0 L294.9,298.0 L295.9,299.0 L297.0,300.1 L298.0,301.1 L299.1,302.1 L300.1,303.2 L301.2,304.2 L302.2,305.3 L303.3,306.4 L304.3,307.4 L305.4,308.5 L306.4,309.6 L307.5,310.6 L308.5,311.7 L309.5,312.8 L310.6,313.9 L311.6,315.0 L312.6,316.1 L313.7,317.2 L314.7,318.3 L315.7,319.4 L316.7,320.5 L317.7,321.6 L318.7,322.7 L319.7,323.8 L320.7,324.9 L321.7,326.1 L322.7,327.2 L323.7,328.3 L324.7,329.5 L325.7,330.6 L326.6,331.7 L327.6,332.9 L328.6,334.0 L329.5,335.2 L330.5,336.3 L331.4,337.5 L332.4,338.6 L333.3,339.8 L334.2,341.0 L335.2,342.1 L336.1,343.3 L337.0,344.5 L337.9,345.6 L338.8,346.8 L339.7,348.0 L340.6,349.1 L341.6,350.3 L342.5,351.4 L343.4,352.6 L344.4,353.7 L345.3,354.8 L346.3,355.9 L347.3,357.0 L348.3,358.1 L349.3,359.2 L350.3,360.2 L351.4,361.3 L352.5,362.3 L353.6,363.3 L354.7,364.2 L355.9,365.2 L357.0,366.1 L358.3,367.0 L359.5,367.9 L360.8,368.7 L362.1,369.5 L363.5,370.3 L364.9,371.1 L366.3,371.8 L367.7,372.4 L369.2,373.0 L370.6,373.6 L372.1,374.1 L373.6,374.5 L375.0,374.8 L376.5,375.1 L378.0,375.2 L379.4,375.3 L380.8,375.3 L382.2,375.2 L383.5,374.9 L384.8,374.6 L386.1,374.1 L387.3,373.5 L388.5,372.8 L389.6,372.0 L390.7,371.0 L391.7,370.0 L392.7,368.9 L393.6,367.7 L394.5,366.5 L395.3,365.2 L396.1,364.0 L396.9,362.7 L397.6,361.3 L398.3,360.0 L399.0,358.7 L399.6,357.4 L400.3,356.0 L400.9,354.7 L401.5,353.3 L402.2,352.0 L402.8,350.6 L403.4,349.2 L404.1,347.9 L404.7,346.5 L405.4,345.2 L406.2,343.8 L406.9,342.5 L407.7,341.2 L408.5,339.8 L409.4,338.5 L410.2,337.3 L411.1,336.0 L412.1,334.8 L413.1,333.5 L414.0,332.4 L415.1,331.2 L416.1,330.1 L417.2,329.0 L418.3,327.9 L419.4,326.9 L420.6,326.0 L421.8,325.1 L423.0,324.2 L424.2,323.4 L425.5,322.6 L426.8,321.9 L428.1,321.3 L429.4,320.7 L430.7,320.2 L432.1,319.8 L433.5,319.4 L434.9,319.0 L436.3,318.7 L437.8,318.5 L439.2,318.3 L440.7,318.1 L442.1,318.0 L443.6,317.9 L445.1,317.8 L446.6,317.8 L448.1,317.8 L449.6,317.8 L451.2,317.8 L452.7,317.9 L454.2,317.9 L455.7,318.0 L457.3,318.1 L458.8,318.2 L460.3,318.2 L461.8,318.3 L463.3,318.4 L464.8,318.5 L466.3,318.6 L467.8,318.6 L469.3,318.7 L470.8,318.8 L472.3,318.9 L473.8,319.0 L475.3,319.0 L476.7,319.1 L478.2,319.2 L479.7,319.2 L481.2,319.3 L482.7,319.4 L484.2,319.5 L485.6,319.5 L487.1,319.6 L488.6,319.7 L490.1,319.8 L491.6,319.8 L493.1,319.9 L494.6,320.0 L496.1,320.1 L497.6,320.2 L499.1,320.3 L500.6,320.3 L502.1,320.4 L503.6,320.5 L505.1,320.6 L506.6,320.7 L508.1,320.9 L509.6,321.0 L511.1,321.1 L512.6,321.2 L514.1,321.4 L515.5,321.5 L517.0,321.7 L518.5,321.8 L520.0,322.0 L521.5,322.2 L523.0,322.4 L524.5,322.6 L526.0,322.8 L527.5,323.0 L529.0,323.2 L530.4,323.5 L531.9,323.7 L533.4,324.0 L534.8,324.2 L536.3,324.5 L537.8,324.8 L539.2,325.1 L540.7,325.5 L542.2,325.8 L543.6,326.1 L545.1,326.5 L546.5,326.9 L548.0,327.2 L549.4,327.6 L550.8,328.1 L552.3,328.5 L553.7,328.9 L555.2,329.3 L556.6,329.6 L558.1,329.9 L559.5,330.2 L561.0,330.5 L562.5,330.7 L563.9,330.9 L565.4,331.0 L566.9,331.2 L568.4,331.3 L569.9,331.4 L571.3,331.5 L572.8,331.5 L574.3,331.6 L575.8,331.6 L577.3,331.6 L578.8,331.7 L580.3,331.7 L581.8,331.7 L583.3,331.7 L584.8,331.7 L586.3,331.7 L587.8,331.7 L589.3,331.7 L590.8,331.8 L592.3,331.8 L593.8,331.8 L595.3,331.9 L596.8,332.0 L598.3,332.1 L599.8,332.2 L601.3,332.3 L602.8,332.5 L604.3,332.6 L605.7,332.8 L607.2,333.0 L608.7,333.3 L610.2,333.5 L611.6,333.8 L613.1,334.0 L614.6,334.3 L616.1,334.6 L617.5,334.9 L619.0,335.2 L620.5,335.5 L621.9,335.8 L623.4,336.1 L624.8,336.5 L626.3,336.8 L627.8,337.1 L629.2,337.5 L630.7,337.8 L632.2,338.2 L633.6,338.5 L635.1,338.8 L636.6,339.1 L638.0,339.5 L639.5,339.8 L641.0,340.1 L642.4,340.4 L643.9,340.7 L645.4,341.0 L646.8,341.2 L648.3,341.5" fill="none" stroke="#2fa864" stroke-width="2.7" stroke-linejoin="round" stroke-linecap="round"/>
<path d="M87.7,4.9 L87.7,6.5 L87.6,8.0 L87.6,9.5 L87.6,11.0 L87.6,12.6 L87.6,14.1 L87.6,15.6 L87.5,17.1 L87.5,18.6 L87.5,20.2 L87.5,21.7 L87.5,23.2 L87.5,24.7 L87.5,26.2 L87.5,27.7 L87.5,29.2 L87.6,30.7 L87.6,32.2 L87.6,33.7 L87.6,35.2 L87.6,36.7 L87.6,38.2 L87.7,39.7 L87.7,41.2 L87.7,42.7 L87.8,44.2 L87.8,45.7 L87.8,47.2 L87.9,48.7 L87.9,50.2 L88.0,51.6 L88.0,53.1 L88.0,54.6 L88.1,56.1 L88.1,57.6 L88.2,59.1 L88.2,60.6 L88.3,62.0 L88.4,63.5 L88.4,65.0 L88.5,66.5 L88.5,68.0 L88.6,69.5 L88.7,70.9 L88.7,72.4 L88.8,73.9 L88.9,75.4 L89.0,76.9 L89.0,78.4 L89.1,79.8 L89.2,81.3 L89.3,82.8 L89.3,84.3 L89.4,85.8 L89.5,87.2 L89.6,88.7 L89.7,90.2 L89.8,91.7 L89.8,93.2 L89.9,94.7 L90.0,96.1 L90.1,97.6 L90.2,99.1 L90.3,100.6 L90.4,102.1 L90.5,103.6 L90.6,105.1 L90.7,106.6 L90.8,108.0 L90.9,109.5 L91.0,111.0 L91.1,112.5 L91.2,114.0 L91.3,115.5 L91.4,117.0 L91.5,118.5 L91.6,120.0 L91.7,121.5 L91.8,123.0 L91.9,124.5 L92.0,126.0 L92.2,127.5 L92.3,129.0 L92.4,130.5 L92.5,132.0 L92.6,133.5 L92.7,135.0 L92.8,136.5 L92.9,138.0 L93.1,139.6 L93.2,141.1 L93.3,142.6 L93.4,144.1 L93.5,145.6 L93.6,147.2 L93.8,148.7 L93.9,150.2 L94.0,151.7 L94.1,153.3 L94.2,154.8 L94.4,156.3 L94.5,157.8 L94.6,159.4 L94.8,160.9 L95.0,162.4 L95.1,163.9 L95.3,165.4 L95.5,166.9 L95.8,168.4 L96.0,169.9 L96.3,171.4 L96.6,172.8 L96.9,174.3 L97.2,175.7 L97.6,177.2 L97.9,178.6 L98.4,180.0 L98.8,181.4 L99.3,182.7 L99.8,184.1 L100.4,185.4 L101.0,186.7 L101.6,188.0 L102.3,189.3 L103.0,190.6 L103.7,191.8 L104.5,193.0 L105.3,194.3 L106.1,195.5 L107.0,196.6 L107.8,197.8 L108.8,198.9 L109.7,200.1 L110.7,201.2 L111.7,202.3 L112.7,203.4 L113.7,204.5 L114.7,205.5 L115.8,206.6 L116.9,207.6 L118.0,208.7 L119.1,209.7 L120.2,210.7 L121.4,211.7 L122.5,212.7 L123.7,213.7 L124.9,214.7 L126.1,215.7 L127.3,216.6 L128.4,217.6 L129.6,218.5 L130.8,219.5 L132.1,220.4 L133.3,221.4 L134.5,222.3 L135.7,223.2 L136.9,224.1 L138.1,225.0 L139.3,226.0 L140.5,226.8 L141.8,227.7 L143.0,228.6 L144.2,229.5 L145.5,230.3 L146.7,231.2 L148.0,232.0 L149.2,232.9 L150.5,233.7 L151.7,234.5 L153.0,235.3 L154.2,236.1 L155.5,236.8 L156.8,237.6 L158.1,238.4 L159.4,239.1 L160.7,239.8 L162.0,240.5 L163.3,241.2 L164.6,241.9 L165.9,242.6 L167.2,243.2 L168.6,243.9 L169.9,244.5 L171.2,245.1 L172.6,245.7 L173.9,246.3 L175.3,246.9 L176.7,247.4 L178.0,248.0 L179.4,248.5 L180.8,249.1 L182.2,249.6 L183.6,250.1 L185.0,250.6 L186.4,251.1 L187.8,251.6 L189.2,252.0 L190.6,252.5 L192.0,252.9 L193.4,253.4 L194.9,253.8 L196.3,254.2 L197.7,254.6 L199.2,255.0 L200.6,255.4 L202.1,255.8 L203.5,256.1 L205.0,256.5 L206.4,256.9 L207.9,257.2 L209.4,257.5 L210.8,257.9 L212.3,258.2 L213.8,258.5 L215.3,258.8 L216.8,259.1 L218.3,259.4 L219.8,259.7 L221.3,260.0 L222.8,260.3 L224.3,260.6 L225.8,260.8 L227.3,261.1 L228.8,261.4 L230.3,261.7 L231.7,262.0 L233.2,262.3 L234.7,262.6 L236.2,263.0 L237.6,263.3 L239.1,263.7 L240.5,264.1 L242.0,264.5 L243.4,264.9 L244.8,265.4 L246.2,265.8 L247.6,266.3 L248.9,266.9 L250.3,267.4 L251.6,268.0 L252.9,268.6 L254.2,269.3 L255.5,270.0 L256.7,270.7 L258.0,271.5 L259.2,272.3 L260.4,273.1 L261.6,274.0 L262.7,274.9 L263.9,275.8 L265.0,276.7 L266.2,277.7 L267.3,278.7 L268.4,279.7 L269.5,280.7 L270.6,281.7 L271.6,282.8 L272.7,283.8 L273.8,284.9 L274.9,286.0 L275.9,287.1 L277.0,288.2 L278.0,289.3 L279.1,290.4 L280.1,291.5 L281.2,292.6 L282.2,293.7 L283.3,294.8 L284.4,295.9 L285.4,297.0 L286.5,298.0 L287.6,299.1 L288.7,300.2 L289.8,301.2 L290.9,302.2 L292.0,303.3 L293.1,304.2 L294.3,305.2 L295.4,306.2 L296.6,307.1 L297.7,308.0 L298.9,308.9 L300.2,309.7 L301.4,310.5 L302.6,311.3 L303.9,312.1 L305.2,312.8 L306.4,313.5 L307.7,314.2 L309.0,314.9 L310.4,315.6 L311.7,316.2 L313.0,316.8 L314.4,317.4 L315.8,318.0 L317.1,318.5 L318.5,319.1 L319.9,319.6 L321.3,320.2 L322.7,320.7 L324.1,321.2 L325.5,321.7 L327.0,322.1 L328.4,322.6 L329.8,323.1 L331.2,323.5 L332.7,324.0 L334.1,324.4 L335.6,324.9 L337.0,325.3 L338.4,325.8 L339.9,326.2 L341.3,326.6 L342.8,327.1 L344.2,327.5 L345.6,328.0 L347.1,328.4 L348.5,328.9 L349.9,329.3 L351.4,329.8 L352.8,330.2 L354.2,330.7 L355.6,331.2 L357.0,331.7 L358.5,332.1 L359.9,332.6 L361.3,333.1 L362.7,333.6 L364.1,334.1 L365.5,334.6 L366.9,335.1 L368.3,335.6 L369.7,336.1 L371.1,336.6 L372.5,337.1 L373.9,337.6 L375.4,338.1 L376.8,338.6 L378.2,339.1 L379.6,339.7 L381.0,340.2 L382.4,340.7 L383.8,341.2 L385.2,341.7 L386.6,342.3 L388.0,342.8 L389.4,343.3 L390.9,343.9 L392.3,344.4 L393.7,344.9 L395.1,345.5 L396.5,346.0 L397.9,346.5 L399.4,347.1 L400.8,347.6 L402.2,348.1 L403.7,348.6 L405.1,349.0 L406.5,349.5 L408.0,349.9 L409.4,350.3 L410.8,350.7 L412.3,351.0 L413.7,351.4 L415.2,351.6 L416.6,351.9 L418.0,352.0 L419.5,352.2 L420.9,352.3 L422.4,352.3 L423.8,352.3 L425.3,352.2 L426.7,352.1 L428.2,352.0 L429.6,351.8 L431.1,351.6 L432.5,351.4 L434.0,351.1 L435.5,350.8 L436.9,350.5 L438.4,350.2 L439.9,349.9 L441.3,349.5 L442.8,349.2 L444.3,348.9 L445.7,348.5 L447.2,348.2 L448.7,347.9 L450.2,347.6 L451.6,347.3 L453.1,347.0 L454.6,346.7 L456.1,346.4 L457.6,346.1 L459.1,345.8 L460.6,345.6 L462.0,345.4 L463.5,345.1 L465.0,344.9 L466.5,344.7 L468.0,344.5 L469.5,344.4 L471.0,344.2 L472.5,344.1 L474.0,343.9 L475.5,343.8 L476.9,343.7 L478.4,343.6 L479.9,343.6 L481.4,343.6 L482.9,343.5 L484.4,343.5 L485.9,343.5 L487.4,343.6 L488.8,343.6 L490.3,343.7 L491.8,343.8 L493.3,343.9 L494.8,344.0 L496.2,344.1 L497.7,344.3 L499.2,344.4 L500.7,344.6 L502.2,344.8 L503.6,344.9 L505.1,345.2 L506.6,345.4 L508.1,345.6 L509.5,345.8 L511.0,346.1 L512.5,346.3 L513.9,346.6 L515.4,346.8 L516.9,347.1 L518.4,347.4 L519.8,347.7 L521.3,348.0 L522.8,348.3 L524.3,348.6 L525.7,348.9 L527.2,349.2 L528.7,349.5 L530.1,349.9 L531.6,350.2 L533.1,350.5 L534.6,350.8 L536.0,351.2 L537.5,351.5 L539.0,351.8 L540.4,352.2 L541.9,352.5 L543.4,352.8 L544.9,353.1 L546.3,353.5 L547.8,353.8 L549.3,354.1 L550.8,354.4 L552.2,354.7 L553.7,355.0 L555.2,355.3 L556.7,355.6 L558.1,355.9 L559.6,356.2 L561.1,356.5 L562.6,356.8 L564.0,357.0 L565.5,357.3 L567.0,357.5 L568.5,357.7 L570.0,358.0 L571.4,358.2 L572.9,358.4 L574.4,358.6 L575.9,358.8 L577.4,358.9 L578.9,359.1 L580.4,359.2 L581.8,359.4 L583.3,359.5 L584.8,359.6 L586.3,359.7 L587.8,359.8 L589.3,359.8 L590.8,359.9 L592.3,360.0 L593.8,360.1 L595.3,360.2 L596.7,360.3 L598.2,360.4 L599.7,360.5 L601.2,360.6 L602.7,360.7 L604.2,360.8 L605.7,361.0 L607.1,361.1 L608.6,361.3 L610.1,361.5 L611.6,361.7 L613.1,362.0 L614.5,362.3 L616.0,362.5 L617.5,362.8 L618.9,363.2 L620.4,363.5 L621.9,363.8 L623.3,364.2 L624.8,364.5 L626.3,364.9 L627.7,365.2 L629.2,365.6 L630.7,366.0 L632.1,366.3 L633.6,366.7 L635.0,367.0 L636.5,367.3 L638.0,367.6 L639.4,367.9 L640.9,368.2 L642.4,368.5 L643.9,368.7 L645.3,369.0 L646.8,369.2 L648.3,369.3" fill="none" stroke="#a970dc" stroke-width="2.7" stroke-linejoin="round" stroke-linecap="round"/>
<path d="M86.8,4.9 L86.8,6.5 L86.9,8.0 L86.9,9.5 L86.9,11.0 L86.9,12.5 L86.9,14.1 L86.9,15.6 L87.0,17.1 L87.0,18.6 L87.0,20.1 L87.0,21.6 L87.0,23.2 L87.1,24.7 L87.1,26.2 L87.1,27.7 L87.1,29.2 L87.1,30.7 L87.1,32.2 L87.2,33.7 L87.2,35.2 L87.2,36.7 L87.2,38.2 L87.2,39.7 L87.3,41.2 L87.3,42.7 L87.3,44.2 L87.3,45.7 L87.3,47.2 L87.4,48.7 L87.4,50.2 L87.4,51.7 L87.4,53.2 L87.4,54.7 L87.5,56.2 L87.5,57.7 L87.5,59.1 L87.5,60.6 L87.6,62.1 L87.6,63.6 L87.6,65.1 L87.6,66.6 L87.7,68.1 L87.7,69.6 L87.7,71.1 L87.7,72.6 L87.8,74.0 L87.8,75.5 L87.8,77.0 L87.9,78.5 L87.9,80.0 L87.9,81.5 L87.9,83.0 L88.0,84.5 L88.0,85.9 L88.0,87.4 L88.1,88.9 L88.1,90.4 L88.1,91.9 L88.2,93.4 L88.2,94.9 L88.3,96.4 L88.3,97.8 L88.3,99.3 L88.4,100.8 L88.4,102.3 L88.5,103.8 L88.5,105.3 L88.5,106.8 L88.6,108.3 L88.6,109.8 L88.7,111.3 L88.7,112.7 L88.8,114.2 L88.8,115.7 L88.9,117.2 L88.9,118.7 L89.0,120.2 L89.0,121.7 L89.1,123.2 L89.1,124.7 L89.2,126.2 L89.3,127.7 L89.3,129.2 L89.4,130.7 L89.4,132.2 L89.5,133.7 L89.6,135.2 L89.6,136.7 L89.7,138.2 L89.8,139.7 L89.8,141.2 L89.9,142.7 L90.0,144.2 L90.1,145.7 L90.1,147.3 L90.2,148.8 L90.3,150.3 L90.4,151.8 L90.4,153.3 L90.5,154.8 L90.6,156.3 L90.7,157.9 L90.8,159.4 L90.9,160.9 L91.0,162.4 L91.0,163.9 L91.1,165.5 L91.2,167.0 L91.3,168.5 L91.4,170.1 L91.5,171.6 L91.7,173.1 L91.8,174.6 L91.9,176.2 L92.1,177.7 L92.2,179.2 L92.4,180.7 L92.6,182.2 L92.8,183.7 L93.0,185.2 L93.2,186.7 L93.5,188.1 L93.8,189.6 L94.1,191.0 L94.4,192.5 L94.8,193.9 L95.2,195.3 L95.6,196.8 L96.1,198.1 L96.5,199.5 L97.0,200.9 L97.6,202.2 L98.2,203.6 L98.8,204.9 L99.4,206.2 L100.1,207.5 L100.8,208.8 L101.5,210.1 L102.3,211.3 L103.0,212.6 L103.8,213.8 L104.6,215.0 L105.5,216.3 L106.4,217.5 L107.2,218.6 L108.2,219.8 L109.1,221.0 L110.0,222.2 L111.0,223.3 L111.9,224.5 L112.9,225.6 L113.9,226.7 L115.0,227.8 L116.0,229.0 L117.0,230.1 L118.1,231.2 L119.1,232.2 L120.2,233.3 L121.2,234.4 L122.3,235.5 L123.4,236.5 L124.5,237.6 L125.6,238.7 L126.7,239.7 L127.8,240.7 L128.9,241.8 L130.0,242.8 L131.2,243.8 L132.3,244.8 L133.4,245.8 L134.6,246.8 L135.7,247.8 L136.9,248.8 L138.1,249.7 L139.2,250.7 L140.4,251.6 L141.6,252.6 L142.8,253.5 L144.0,254.4 L145.2,255.4 L146.4,256.3 L147.6,257.2 L148.9,258.0 L150.1,258.9 L151.3,259.8 L152.6,260.6 L153.8,261.5 L155.1,262.3 L156.3,263.1 L157.6,263.9 L158.8,264.7 L160.1,265.5 L161.4,266.3 L162.7,267.1 L164.0,267.8 L165.3,268.6 L166.6,269.3 L167.9,270.0 L169.2,270.8 L170.5,271.5 L171.8,272.1 L173.1,272.8 L174.5,273.5 L175.8,274.1 L177.1,274.8 L178.5,275.4 L179.8,276.0 L181.2,276.7 L182.5,277.3 L183.9,277.9 L185.2,278.5 L186.6,279.1 L188.0,279.6 L189.3,280.2 L190.7,280.8 L192.1,281.3 L193.5,281.9 L194.9,282.4 L196.2,283.0 L197.6,283.5 L199.0,284.0 L200.4,284.6 L201.8,285.1 L203.2,285.6 L204.6,286.1 L206.0,286.6 L207.4,287.1 L208.8,287.7 L210.2,288.2 L211.6,288.7 L213.0,289.2 L214.5,289.7 L215.9,290.2 L217.3,290.7 L218.7,291.2 L220.1,291.7 L221.5,292.2 L222.9,292.6 L224.3,293.1 L225.8,293.6 L227.2,294.1 L228.6,294.7 L230.0,295.2 L231.4,295.7 L232.8,296.2 L234.3,296.7 L235.7,297.2 L237.1,297.7 L238.5,298.2 L239.9,298.8 L241.3,299.3 L242.7,299.8 L244.1,300.4 L245.5,300.9 L246.9,301.5 L248.3,302.1 L249.7,302.6 L251.1,303.2 L252.5,303.8 L253.8,304.5 L255.2,305.1 L256.5,305.8 L257.8,306.4 L259.2,307.1 L260.4,307.9 L261.7,308.6 L263.0,309.4 L264.2,310.2 L265.4,311.1 L266.6,312.0 L267.8,312.9 L268.9,313.8 L270.0,314.8 L271.1,315.9 L272.1,316.9 L273.1,318.0 L274.1,319.2 L275.1,320.3 L276.1,321.5 L277.1,322.7 L278.0,323.9 L278.9,325.1 L279.9,326.3 L280.8,327.5 L281.8,328.8 L282.7,330.0 L283.7,331.2 L284.6,332.3 L285.6,333.5 L286.6,334.6 L287.6,335.7 L288.6,336.8 L289.7,337.9 L290.8,338.9 L291.8,339.9 L293.0,340.8 L294.1,341.8 L295.2,342.7 L296.4,343.6 L297.5,344.5 L298.7,345.4 L299.9,346.2 L301.1,347.1 L302.4,347.9 L303.6,348.7 L304.8,349.4 L306.1,350.2 L307.4,350.9 L308.7,351.7 L310.0,352.4 L311.3,353.1 L312.6,353.8 L313.9,354.5 L315.2,355.2 L316.6,355.9 L317.9,356.6 L319.3,357.3 L320.6,357.9 L322.0,358.6 L323.3,359.3 L324.7,359.9 L326.0,360.6 L327.4,361.3 L328.7,361.9 L330.1,362.6 L331.4,363.3 L332.8,364.0 L334.1,364.7 L335.4,365.4 L336.8,366.1 L338.1,366.8 L339.4,367.6 L340.7,368.3 L342.0,369.1 L343.2,369.9 L344.5,370.6 L345.8,371.5 L347.0,372.3 L348.2,373.1 L349.4,374.0 L350.6,374.9 L351.8,375.8 L353.0,376.7 L354.1,377.7 L355.3,378.6 L356.4,379.6 L357.5,380.6 L358.6,381.6 L359.8,382.6 L360.9,383.6 L361.9,384.6 L363.0,385.7 L364.1,386.7 L365.2,387.8 L366.3,388.8 L367.3,389.9 L368.4,390.9 L369.5,392.0 L370.5,393.1 L371.6,394.1 L372.6,395.2 L373.7,396.3 L374.8,397.4 L375.8,398.4 L376.9,399.5 L378.0,400.5 L379.1,401.6 L380.2,402.6 L381.3,403.7 L382.4,404.7 L383.5,405.7 L384.6,406.7 L385.7,407.7 L386.8,408.7 L388.0,409.7 L389.1,410.7 L390.3,411.6 L391.5,412.6 L392.7,413.5 L393.8,414.4 L395.0,415.4 L396.2,416.3 L397.3,417.3 L398.5,418.2 L399.6,419.2 L400.7,420.1 L401.8,421.1 L402.8,422.1 L403.9,423.1 L405.0,424.2 L406.0,425.2 L407.1,426.2 L408.1,427.2 L409.2,428.2 L410.3,429.3 L411.4,430.3 L412.5,431.3 L413.6,432.2 L414.8,433.2 L416.0,434.2 L417.3,435.1 L418.5,436.0 L419.8,436.9 L421.2,437.7 L422.6,438.4 L423.9,439.1 L425.4,439.6 L426.8,440.0 L428.3,440.3 L429.7,440.5 L431.2,440.4 L432.7,440.2 L434.1,439.8 L435.4,439.1 L436.6,438.2 L437.5,437.2 L438.3,435.9 L439.0,434.6 L439.7,433.2 L440.3,431.8 L440.9,430.3 L441.5,428.9 L442.0,427.5 L442.6,426.0 L443.1,424.6 L443.6,423.2 L444.1,421.8 L444.6,420.4 L445.0,419.1 L445.5,417.7 L446.0,416.3 L446.4,414.9 L446.9,413.5 L447.3,412.1 L447.8,410.7 L448.3,409.3 L448.7,407.9 L449.2,406.5 L449.7,405.0 L450.2,403.6 L450.8,402.1 L451.3,400.6 L451.9,399.2 L452.5,397.7 L453.2,396.3 L453.9,394.9 L454.6,393.5 L455.4,392.2 L456.2,391.0 L457.1,389.8 L458.0,388.7 L459.0,387.7 L460.1,386.8 L461.2,385.9 L462.4,385.2 L463.7,384.6 L465.0,384.1 L466.4,383.7 L467.9,383.3 L469.4,383.1 L470.9,382.9 L472.4,382.7 L474.0,382.6 L475.5,382.6 L477.1,382.5 L478.7,382.5 L480.2,382.5 L481.8,382.5 L483.3,382.6 L484.9,382.6 L486.4,382.7 L487.9,382.8 L489.4,382.9 L491.0,383.0 L492.5,383.1 L494.0,383.3 L495.5,383.4 L497.0,383.6 L498.5,383.8 L499.9,384.0 L501.4,384.2 L502.9,384.4 L504.4,384.6 L505.8,384.9 L507.3,385.1 L508.8,385.4 L510.2,385.6 L511.7,385.9 L513.1,386.2 L514.6,386.5 L516.0,386.8 L517.5,387.1 L518.9,387.4 L520.4,387.7 L521.8,388.0 L523.3,388.4 L524.7,388.7 L526.1,389.0 L527.6,389.4 L529.0,389.7 L530.5,390.0 L531.9,390.4 L533.3,390.7 L534.8,391.1 L536.2,391.4 L537.7,391.8 L539.1,392.1 L540.6,392.5 L542.0,392.8 L543.5,393.2 L544.9,393.5 L546.4,393.9 L547.8,394.2 L549.3,394.5 L550.8,394.9 L552.2,395.2 L553.7,395.5 L555.2,395.9 L556.6,396.2 L558.1,396.5 L559.6,396.8 L561.1,397.1 L562.6,397.3 L564.1,397.6 L565.6,397.9 L567.1,398.1 L568.6,398.3 L570.1,398.5 L571.6,398.6 L573.1,398.7 L574.6,398.8 L576.1,398.9 L577.6,399.0 L579.0,399.0 L580.5,399.0 L582.0,399.0 L583.5,399.0 L585.0,399.0 L586.5,399.0 L588.0,399.0 L589.5,399.0 L591.0,399.1 L592.5,399.1 L594.0,399.1 L595.5,399.1 L596.9,399.2 L598.4,399.3 L599.9,399.4 L601.4,399.5 L602.9,399.7 L604.4,399.9 L605.9,400.1 L607.3,400.3 L608.8,400.5 L610.3,400.7 L611.8,401.0 L613.3,401.3 L614.7,401.5 L616.2,401.8 L617.7,402.2 L619.2,402.5 L620.6,402.8 L622.1,403.1 L623.6,403.5 L625.0,403.8 L626.5,404.2 L628.0,404.6 L629.4,404.9 L630.9,405.3 L632.4,405.7 L633.8,406.0 L635.3,406.4 L636.7,406.8 L638.2,407.2 L639.6,407.5 L641.1,407.9 L642.5,408.3 L644.0,408.6 L645.4,409.0 L646.9,409.3 L648.3,409.7" fill="none" stroke="#c99400" stroke-width="2.7" stroke-linejoin="round" stroke-linecap="round"/>
<path d="M87.6,4.9 L87.6,6.5 L87.7,8.0 L87.7,9.5 L87.8,11.0 L87.8,12.5 L87.8,14.1 L87.9,15.6 L87.9,17.1 L87.9,18.6 L88.0,20.1 L88.0,21.6 L88.0,23.1 L88.1,24.6 L88.1,26.1 L88.1,27.6 L88.2,29.2 L88.2,30.7 L88.2,32.2 L88.2,33.7 L88.3,35.2 L88.3,36.7 L88.3,38.2 L88.3,39.7 L88.4,41.2 L88.4,42.7 L88.4,44.2 L88.4,45.6 L88.4,47.1 L88.5,48.6 L88.5,50.1 L88.5,51.6 L88.5,53.1 L88.5,54.6 L88.6,56.1 L88.6,57.6 L88.6,59.1 L88.6,60.6 L88.6,62.1 L88.7,63.5 L88.7,65.0 L88.7,66.5 L88.7,68.0 L88.7,69.5 L88.8,71.0 L88.8,72.5 L88.8,74.0 L88.8,75.4 L88.8,76.9 L88.9,78.4 L88.9,79.9 L88.9,81.4 L88.9,82.9 L89.0,84.4 L89.0,85.8 L89.0,87.3 L89.1,88.8 L89.1,90.3 L89.1,91.8 L89.2,93.3 L89.2,94.8 L89.2,96.2 L89.3,97.7 L89.3,99.2 L89.3,100.7 L89.4,102.2 L89.4,103.7 L89.5,105.2 L89.5,106.6 L89.6,108.1 L89.6,109.6 L89.6,111.1 L89.7,112.6 L89.8,114.1 L89.8,115.6 L89.9,117.1 L89.9,118.6 L90.0,120.0 L90.0,121.5 L90.1,123.0 L90.2,124.5 L90.2,126.0 L90.3,127.5 L90.4,129.0 L90.5,130.5 L90.5,132.0 L90.6,133.5 L90.7,135.0 L90.8,136.5 L90.9,138.0 L91.0,139.5 L91.1,141.0 L91.1,142.5 L91.2,144.0 L91.3,145.5 L91.4,147.0 L91.6,148.5 L91.7,150.0 L91.8,151.5 L91.9,153.0 L92.0,154.5 L92.1,156.1 L92.2,157.6 L92.4,159.1 L92.5,160.6 L92.6,162.1 L92.8,163.6 L92.9,165.1 L93.1,166.7 L93.2,168.2 L93.4,169.7 L93.5,171.2 L93.7,172.7 L93.9,174.3 L94.0,175.8 L94.2,177.3 L94.4,178.8 L94.7,180.3 L94.9,181.8 L95.1,183.3 L95.4,184.8 L95.7,186.3 L96.0,187.7 L96.3,189.2 L96.6,190.6 L97.0,192.1 L97.3,193.5 L97.7,194.9 L98.1,196.4 L98.6,197.8 L99.1,199.1 L99.5,200.5 L100.1,201.9 L100.6,203.2 L101.2,204.6 L101.8,205.9 L102.4,207.2 L103.1,208.4 L103.8,209.7 L104.5,211.0 L105.3,212.2 L106.1,213.4 L107.0,214.6 L107.8,215.8 L108.7,216.9 L109.6,218.0 L110.6,219.2 L111.6,220.3 L112.6,221.4 L113.6,222.5 L114.6,223.5 L115.7,224.6 L116.8,225.6 L117.9,226.7 L119.0,227.7 L120.2,228.7 L121.3,229.7 L122.5,230.7 L123.7,231.6 L124.9,232.6 L126.1,233.6 L127.3,234.5 L128.5,235.5 L129.7,236.4 L131.0,237.3 L132.2,238.3 L133.4,239.2 L134.7,240.1 L135.9,241.0 L137.2,241.9 L138.4,242.8 L139.7,243.7 L140.9,244.6 L142.1,245.5 L143.4,246.4 L144.6,247.3 L145.8,248.2 L147.0,249.1 L148.3,249.9 L149.5,250.8 L150.7,251.7 L151.9,252.5 L153.1,253.4 L154.3,254.2 L155.6,255.1 L156.8,255.9 L158.0,256.8 L159.2,257.6 L160.5,258.4 L161.7,259.2 L162.9,260.0 L164.2,260.8 L165.4,261.6 L166.7,262.3 L167.9,263.1 L169.2,263.8 L170.4,264.6 L171.7,265.3 L173.0,266.0 L174.2,266.7 L175.5,267.4 L176.8,268.1 L178.1,268.7 L179.5,269.4 L180.8,270.0 L182.1,270.6 L183.5,271.2 L184.8,271.8 L186.2,272.4 L187.5,273.0 L188.9,273.5 L190.3,274.0 L191.7,274.6 L193.1,275.1 L194.5,275.6 L196.0,276.1 L197.4,276.6 L198.8,277.0 L200.3,277.5 L201.7,278.0 L203.2,278.4 L204.6,278.9 L206.1,279.3 L207.5,279.8 L209.0,280.2 L210.4,280.7 L211.9,281.1 L213.4,281.5 L214.8,282.0 L216.3,282.4 L217.8,282.9 L219.2,283.3 L220.7,283.8 L222.1,284.2 L223.6,284.7 L225.0,285.1 L226.5,285.6 L227.9,286.1 L229.4,286.6 L230.8,287.1 L232.2,287.6 L233.6,288.1 L235.0,288.6 L236.5,289.2 L237.8,289.7 L239.2,290.3 L240.6,290.9 L242.0,291.4 L243.3,292.1 L244.7,292.7 L246.0,293.3 L247.3,294.0 L248.7,294.7 L250.0,295.4 L251.2,296.1 L252.5,296.9 L253.8,297.6 L255.0,298.4 L256.2,299.2 L257.4,300.1 L258.6,300.9 L259.8,301.8 L261.0,302.7 L262.2,303.6 L263.3,304.6 L264.5,305.5 L265.6,306.5 L266.7,307.4 L267.8,308.4 L268.9,309.4 L270.0,310.5 L271.1,311.5 L272.2,312.5 L273.2,313.6 L274.3,314.7 L275.4,315.7 L276.4,316.8 L277.4,317.9 L278.5,319.0 L279.5,320.1 L280.5,321.2 L281.6,322.3 L282.6,323.4 L283.6,324.5 L284.6,325.6 L285.7,326.8 L286.7,327.9 L287.7,329.0 L288.7,330.1 L289.7,331.2 L290.7,332.3 L291.8,333.4 L292.8,334.5 L293.8,335.6 L294.8,336.7 L295.9,337.8 L296.9,338.8 L298.0,339.9 L299.0,340.9 L300.1,341.9 L301.2,342.9 L302.3,343.9 L303.5,344.8 L304.6,345.7 L305.8,346.6 L307.0,347.5 L308.2,348.4 L309.4,349.2 L310.7,350.0 L312.0,350.7 L313.3,351.4 L314.6,352.1 L316.0,352.8 L317.4,353.4 L318.9,354.0 L320.3,354.5 L321.8,355.1 L323.3,355.6 L324.7,356.2 L326.1,356.7 L327.6,357.3 L328.9,358.0 L330.3,358.7 L331.6,359.4 L332.8,360.2 L334.1,361.0 L335.3,361.8 L336.5,362.7 L337.6,363.6 L338.7,364.5 L339.8,365.5 L340.9,366.5 L342.0,367.5 L343.1,368.5 L344.1,369.6 L345.2,370.6 L346.2,371.7 L347.2,372.7 L348.3,373.8 L349.3,374.9 L350.4,375.9 L351.4,377.0 L352.4,378.1 L353.5,379.2 L354.5,380.3 L355.5,381.4 L356.6,382.4 L357.6,383.5 L358.6,384.6 L359.7,385.8 L360.7,386.9 L361.7,388.0 L362.7,389.1 L363.8,390.2 L364.8,391.3 L365.8,392.4 L366.8,393.5 L367.8,394.7 L368.8,395.8 L369.8,396.9 L370.8,398.0 L371.8,399.2 L372.8,400.3 L373.8,401.4 L374.8,402.6 L375.8,403.7 L376.7,404.8 L377.7,406.0 L378.7,407.1 L379.6,408.2 L380.6,409.4 L381.6,410.5 L382.5,411.7 L383.4,412.8 L384.4,414.0 L385.3,415.1 L386.3,416.2 L387.2,417.4 L388.1,418.6 L389.0,419.7 L390.0,420.9 L390.9,422.0 L391.8,423.2 L392.7,424.3 L393.6,425.5 L394.5,426.7 L395.4,427.8 L396.3,429.0 L397.2,430.2 L398.1,431.4 L399.0,432.6 L399.9,433.7 L400.8,434.9 L401.7,436.1 L402.6,437.3 L403.5,438.5 L404.4,439.7 L405.3,440.9 L406.2,442.1 L407.1,443.4 L408.0,444.6 L408.9,445.8 L409.8,447.0 L410.7,448.3 L411.6,449.5 L412.5,450.7 L413.4,452.0 L414.3,453.2 L415.2,454.4 L416.1,455.6 L417.1,456.8 L418.0,458.0 L419.0,459.2 L420.0,460.3 L421.0,461.4 L422.0,462.5 L423.1,463.5 L424.2,464.5 L425.3,465.5 L426.5,466.4 L427.7,467.3 L428.9,468.1 L430.2,468.8 L431.5,469.5 L432.8,470.1 L434.2,470.7 L435.6,471.1 L437.0,471.2 L438.2,470.8 L439.3,470.1 L440.3,469.1 L441.1,468.0 L441.8,466.7 L442.3,465.3 L442.8,463.8 L443.1,462.2 L443.5,460.6 L443.8,459.0 L444.1,457.4 L444.4,455.9 L444.8,454.4 L445.1,453.0 L445.6,451.6 L446.0,450.2 L446.4,448.8 L446.8,447.4 L447.1,446.0 L447.5,444.6 L447.8,443.2 L448.2,441.7 L448.5,440.3 L448.8,438.8 L449.1,437.3 L449.4,435.8 L449.7,434.3 L450.0,432.8 L450.3,431.3 L450.6,429.9 L450.9,428.4 L451.2,426.9 L451.5,425.4 L451.9,424.0 L452.2,422.5 L452.5,421.0 L452.8,419.6 L453.1,418.1 L453.4,416.7 L453.7,415.2 L454.0,413.7 L454.4,412.3 L454.7,410.8 L455.0,409.4 L455.2,407.9 L455.5,406.5 L455.8,405.0 L456.1,403.6 L456.4,402.1 L456.6,400.6 L456.9,399.2 L457.2,397.7 L457.5,396.3 L457.9,394.8 L458.3,393.3 L458.7,391.9 L459.1,390.4 L459.6,388.9 L460.1,387.5 L460.7,386.0 L461.4,384.7 L462.1,383.4 L463.0,382.2 L463.9,381.2 L465.0,380.2 L466.2,379.5 L467.5,378.9 L468.9,378.4 L470.4,378.1 L472.0,377.9 L473.6,377.7 L475.1,377.6 L476.7,377.5 L478.2,377.5 L479.8,377.5 L481.3,377.5 L482.8,377.5 L484.3,377.6 L485.8,377.7 L487.3,377.8 L488.8,377.9 L490.3,378.0 L491.8,378.2 L493.2,378.4 L494.7,378.6 L496.2,378.8 L497.6,379.0 L499.1,379.2 L500.5,379.4 L502.0,379.7 L503.5,379.9 L504.9,380.2 L506.4,380.4 L507.9,380.6 L509.3,380.9 L510.8,381.1 L512.3,381.4 L513.7,381.6 L515.2,381.8 L516.7,382.1 L518.2,382.3 L519.6,382.6 L521.1,382.8 L522.6,383.1 L524.1,383.3 L525.5,383.6 L527.0,383.8 L528.5,384.1 L530.0,384.3 L531.5,384.6 L532.9,384.8 L534.4,385.1 L535.9,385.3 L537.4,385.6 L538.9,385.8 L540.3,386.1 L541.8,386.3 L543.3,386.5 L544.8,386.8 L546.3,387.0 L547.8,387.3 L549.2,387.5 L550.7,387.7 L552.2,388.0 L553.7,388.2 L555.2,388.5 L556.7,388.7 L558.1,388.9 L559.6,389.1 L561.1,389.4 L562.6,389.6 L564.1,389.8 L565.6,390.0 L567.0,390.2 L568.5,390.4 L570.0,390.6 L571.5,390.7 L573.0,390.8 L574.5,390.9 L575.9,390.9 L577.4,390.9 L578.9,390.8 L580.4,390.7 L581.9,390.6 L583.4,390.4 L584.9,390.3 L586.4,390.2 L587.9,390.3 L589.4,390.3 L590.9,390.5 L592.4,390.6 L593.9,390.8 L595.3,391.1 L596.8,391.3 L598.3,391.6 L599.8,391.8 L601.3,392.1 L602.7,392.3 L604.2,392.6 L605.7,392.8 L607.2,393.1 L608.6,393.4 L610.1,393.6 L611.6,393.9 L613.1,394.2 L614.5,394.4 L616.0,394.7 L617.5,395.0 L618.9,395.3 L620.4,395.5 L621.9,395.8 L623.4,396.1 L624.8,396.4 L626.3,396.7 L627.8,397.0 L629.2,397.2 L630.7,397.5 L632.2,397.8 L633.6,398.1 L635.1,398.4 L636.6,398.7 L638.0,399.0 L639.5,399.3 L641.0,399.6 L642.4,399.9 L643.9,400.3 L645.4,400.6 L646.8,400.9 L648.3,401.2" fill="none" stroke="#05c6ca" stroke-width="2.7" stroke-linejoin="round" stroke-linecap="round"/>
</g>
<path d="M66.6,10 H681.5 V506 H66.6 Z" fill="none" stroke="#000" stroke-width="1.7"/>
<line x1="86.7" y1="506" x2="86.7" y2="514.5" stroke="#000" stroke-width="1.7"/>
<text x="86.7" y="538.2" font-size="20.6" text-anchor="middle">-40</text>
<line x1="168.8" y1="506" x2="168.8" y2="514.5" stroke="#000" stroke-width="1.7"/>
<text x="168.8" y="538.2" font-size="20.6" text-anchor="middle">-20</text>
<line x1="250.9" y1="506" x2="250.9" y2="514.5" stroke="#000" stroke-width="1.7"/>
<text x="250.9" y="538.2" font-size="20.6" text-anchor="middle">0</text>
<line x1="333.0" y1="506" x2="333.0" y2="514.5" stroke="#000" stroke-width="1.7"/>
<text x="333.0" y="538.2" font-size="20.6" text-anchor="middle">20</text>
<line x1="415.1" y1="506" x2="415.1" y2="514.5" stroke="#000" stroke-width="1.7"/>
<text x="415.1" y="538.2" font-size="20.6" text-anchor="middle">40</text>
<line x1="497.1" y1="506" x2="497.1" y2="514.5" stroke="#000" stroke-width="1.7"/>
<text x="497.1" y="538.2" font-size="20.6" text-anchor="middle">60</text>
<line x1="579.2" y1="506" x2="579.2" y2="514.5" stroke="#000" stroke-width="1.7"/>
<text x="579.2" y="538.2" font-size="20.6" text-anchor="middle">80</text>
<line x1="661.3" y1="506" x2="661.3" y2="514.5" stroke="#000" stroke-width="1.7"/>
<text x="661.3" y="538.2" font-size="20.6" text-anchor="middle">100</text>
<line x1="127.8" y1="506" x2="127.8" y2="510.5" stroke="#000" stroke-width="1.7"/>
<line x1="209.9" y1="506" x2="209.9" y2="510.5" stroke="#000" stroke-width="1.7"/>
<line x1="291.9" y1="506" x2="291.9" y2="510.5" stroke="#000" stroke-width="1.7"/>
<line x1="374.0" y1="506" x2="374.0" y2="510.5" stroke="#000" stroke-width="1.7"/>
<line x1="456.1" y1="506" x2="456.1" y2="510.5" stroke="#000" stroke-width="1.7"/>
<line x1="538.2" y1="506" x2="538.2" y2="510.5" stroke="#000" stroke-width="1.7"/>
<line x1="620.3" y1="506" x2="620.3" y2="510.5" stroke="#000" stroke-width="1.7"/>
<line x1="56.199999999999996" y1="506.0" x2="66.6" y2="506.0" stroke="#000" stroke-width="1.7"/>
<text x="49.1" y="511.8" font-size="20.6" text-anchor="end">-6</text>
<line x1="56.199999999999996" y1="406.8" x2="66.6" y2="406.8" stroke="#000" stroke-width="1.7"/>
<text x="49.1" y="412.6" font-size="20.6" text-anchor="end">-5</text>
<line x1="56.199999999999996" y1="307.6" x2="66.6" y2="307.6" stroke="#000" stroke-width="1.7"/>
<text x="49.1" y="313.4" font-size="20.6" text-anchor="end">-4</text>
<line x1="56.199999999999996" y1="208.4" x2="66.6" y2="208.4" stroke="#000" stroke-width="1.7"/>
<text x="49.1" y="214.2" font-size="20.6" text-anchor="end">-3</text>
<line x1="56.199999999999996" y1="109.2" x2="66.6" y2="109.2" stroke="#000" stroke-width="1.7"/>
<text x="49.1" y="115.0" font-size="20.6" text-anchor="end">-2</text>
<line x1="56.199999999999996" y1="10.0" x2="66.6" y2="10.0" stroke="#000" stroke-width="1.7"/>
<text x="49.1" y="15.8" font-size="20.6" text-anchor="end">-1</text>
<line x1="61.599999999999994" y1="456.4" x2="66.6" y2="456.4" stroke="#000" stroke-width="1.7"/>
<line x1="61.599999999999994" y1="357.2" x2="66.6" y2="357.2" stroke="#000" stroke-width="1.7"/>
<line x1="61.599999999999994" y1="258.0" x2="66.6" y2="258.0" stroke="#000" stroke-width="1.7"/>
<line x1="61.599999999999994" y1="158.8" x2="66.6" y2="158.8" stroke="#000" stroke-width="1.7"/>
<line x1="61.599999999999994" y1="59.6" x2="66.6" y2="59.6" stroke="#000" stroke-width="1.7"/>
<rect x="553.5" y="35.1" width="102.1" height="185.7" fill="#fff" stroke="#5a5a5a" stroke-width="1.3"/>
<line x1="556.3" y1="49.2" x2="603.4" y2="49.2" stroke="#424242" stroke-width="2.6" stroke-linecap="round"/>
<text x="607.8" y="55.6" font-size="21.4">D0</text>
<line x1="556.3" y1="75.5" x2="603.4" y2="75.5" stroke="#ee3535" stroke-width="2.6" stroke-linecap="round"/>
<text x="607.8" y="81.9" font-size="21.4">D1M</text>
<line x1="556.3" y1="101.7" x2="603.4" y2="101.7" stroke="#156cdb" stroke-width="2.6" stroke-linecap="round"/>
<text x="607.8" y="108.1" font-size="21.4">D3M</text>
<line x1="556.3" y1="128.0" x2="603.4" y2="128.0" stroke="#2fa864" stroke-width="2.6" stroke-linecap="round"/>
<text x="607.8" y="134.4" font-size="21.4">D5M</text>
<line x1="556.3" y1="154.3" x2="603.4" y2="154.3" stroke="#a970dc" stroke-width="2.6" stroke-linecap="round"/>
<text x="607.8" y="160.7" font-size="21.4">D1L</text>
<line x1="556.3" y1="180.6" x2="603.4" y2="180.6" stroke="#c99400" stroke-width="2.6" stroke-linecap="round"/>
<text x="607.8" y="187.0" font-size="21.4">D3L</text>
<line x1="556.3" y1="206.8" x2="603.4" y2="206.8" stroke="#05c6ca" stroke-width="2.6" stroke-linecap="round"/>
<text x="607.8" y="213.2" font-size="21.4">D5L</text>
<text x="283.5" y="577.6" font-size="26">Temperature (°C)</text>
<text transform="translate(21.6,343.3) rotate(-90)" font-size="26">Heat flow (mW)</text>
<text x="152" y="348.2" font-size="18.5">Glass transition</text>
<text x="152" y="370.5" font-size="18.5">temperature (T<tspan font-size="13" dy="5.5">g</tspan><tspan dy="-5.5">)</tspan></text>
<text x="183" y="420" font-size="18.5">On<tspan dx="1.4">set</tspan> temperature (T<tspan font-size="13" dy="4.5">on</tspan><tspan dy="-4.5">)</tspan></text>
<text x="463.8" y="442.2" font-size="18.5">Endothermic peak area</text>
<text x="239.6" y="488.4" font-size="18.5">Peak temperature (T<tspan font-size="13" dy="4.5">peak</tspan><tspan dy="-4.5">)</tspan></text>
<line x1="226.9" y1="327.2" x2="242.1" y2="308.8" stroke="#111" stroke-width="1.1"/><path d="M248.8,300.7 L243.5,312.6 L238.1,308.1 Z" fill="#000"/>
<line x1="326.3" y1="399.5" x2="341.0" y2="381.3" stroke="#111" stroke-width="1.1"/><path d="M347.6,373.1 L342.5,385.0 L337.0,380.6 Z" fill="#000"/>
<line x1="482.7" y1="425.6" x2="443.8" y2="409.8" stroke="#111" stroke-width="1.1"/><path d="M434.1,405.9 L447.0,407.4 L444.4,413.8 Z" fill="#000"/>
<line x1="407.1" y1="467.6" x2="422.1" y2="449.5" stroke="#111" stroke-width="1.1"/><path d="M428.8,441.4 L423.5,453.3 L418.1,448.8 Z" fill="#000"/>
</svg>
</body></html>
